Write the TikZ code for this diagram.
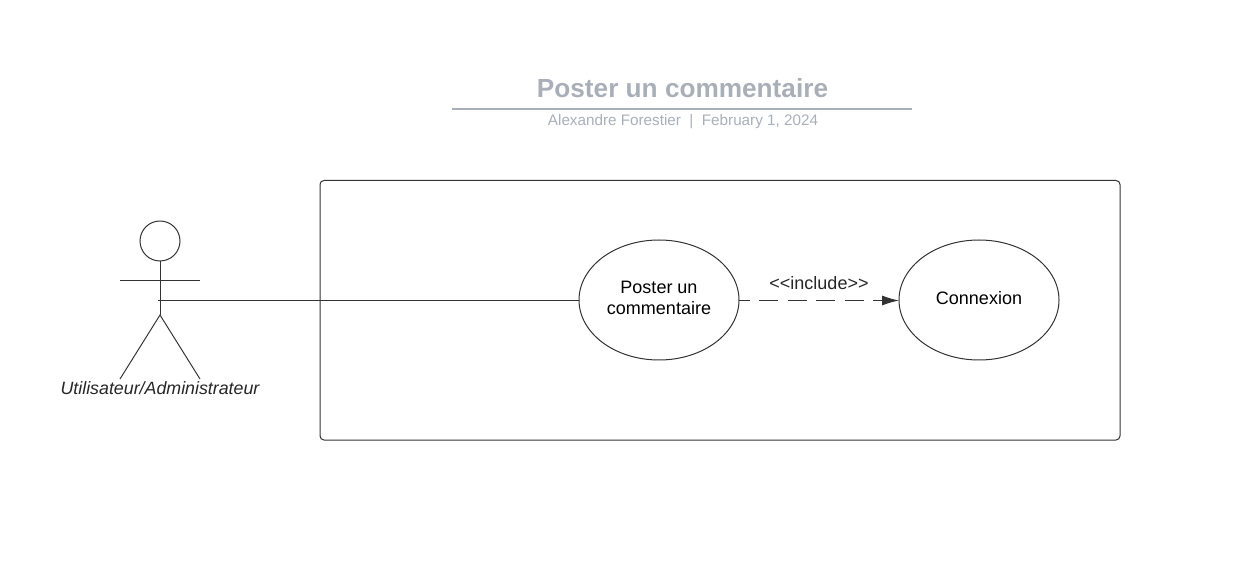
\documentclass[tikz,border=0pt]{standalone}
\usepackage{fontspec}
\setmainfont{Liberation Sans}
\usetikzlibrary{arrows.meta}
\usetikzlibrary{positioning}
\usetikzlibrary{shapes.geometric}
\definecolor{titlegray}{HTML}{A9AFB9}
\definecolor{linegray}{HTML}{333333}
\tikzset{
  usecase/.style={draw=linegray, line width=1pt, ellipse, minimum width=160pt, minimum height=120pt, inner sep=0pt},
  usetext/.style={align=center, font=\fontsize{18pt}{21pt}\selectfont},
  stick/.style={draw=linegray, line width=1pt},
}
\begin{document}
\begin{tikzpicture}[x=1pt, y=-1pt]
\useasboundingbox (0, 0) rectangle (1240, 561);
\node (title) at (682.5, 88) [text=titlegray, font=\fontsize{26.2pt}{30pt}\selectfont\bfseries] {Poster un commentaire};
\coordinate (ruleL) at (452, 109);
\coordinate (ruleR) at (912, 109);
\draw [titlegray, line width=2pt] (ruleL) -- (ruleR);
\node (byline) at (683, 121.5) [text=titlegray, font=\fontsize{15.25pt}{18pt}\selectfont] {Alexandre Forestier\ \ |\ \ February 1, 2024};
% system boundary
\draw [stick, rounded corners=4pt] (320, 180.5) rectangle (1120, 440) ;
% actor
\node (head) at (160, 241) [draw=linegray, line width=1pt, circle, minimum size=40pt, inner sep=0pt] {};
\coordinate (hip) at (160, 315);
\coordinate (armL) at (120, 280.5);
\coordinate (armR) at (200, 280.5);
\coordinate (footL) at (120, 379);
\coordinate (footR) at (200, 379);
\coordinate (hand) at (158, 300.5);
\draw [stick] (head.south) -- (hip);
\draw [stick] (armL) -- (armR);
\draw [stick] (footL) -- (hip) -- (footR);
\node (actor) at (160, 388) [text=black!85, font=\fontsize{17.8pt}{20pt}\selectfont\itshape] {Utilisateur/Administrateur};
% use cases
\node (poster) at (659, 300) [usecase] {};
\node (posterText) at (659, 297.5) [usetext] {Poster un\\commentaire};
\node (connexion) at (979, 300) [usecase] {};
\node (connexionText) at (979, 298) [usetext] {Connexion};
\coordinate (posterE) at (739, 300.5);
\coordinate (connexionW) at (899, 300.5);
\draw [stick] (hand) -- (poster.west |- hand);
\draw [stick, dash pattern=on 19pt off 9.5pt, dash phase=8.5pt, -{Latex[length=17pt, width=10pt]}] (posterE) -- (connexionW);
\node (include) at (819, 283) [text=black!85, font=\fontsize{18pt}{20pt}\selectfont] {<{}<include>{}>};
\end{tikzpicture}
\end{document}
